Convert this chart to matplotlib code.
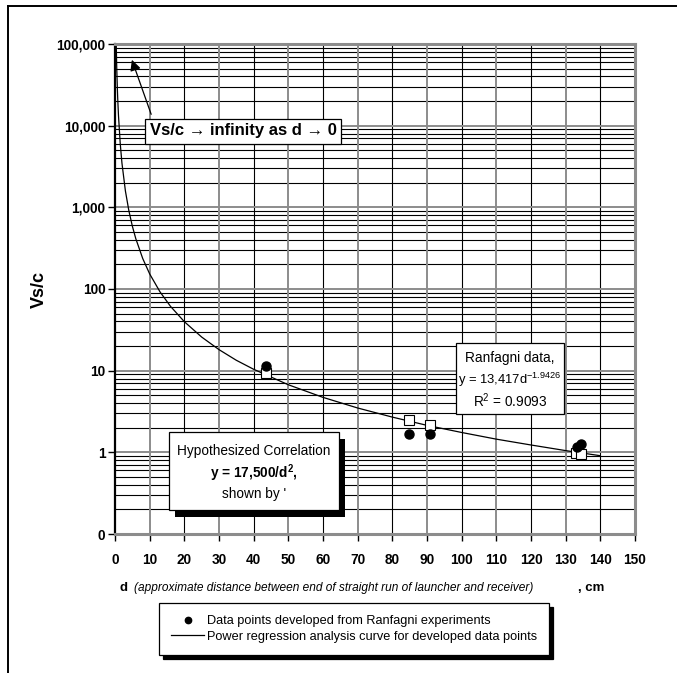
import matplotlib

matplotlib.use("Agg")
import matplotlib.pyplot as plt
from matplotlib.lines import Line2D
from matplotlib.patches import Rectangle

plt.rcParams["font.family"] = ["Liberation Sans", "DejaVu Sans"]
plt.rcParams["mathtext.fontset"] = "custom"
plt.rcParams["mathtext.rm"] = "Liberation Sans"
plt.rcParams["mathtext.it"] = "Liberation Sans:italic"
plt.rcParams["mathtext.bf"] = "Liberation Sans:bold"

# Ranfagni-derived data points (filled circles)
ranfagni_d = [43.5, 84.9, 91.0, 133.3, 134.4]
ranfagni_v = [11.3, 1.68, 1.68, 1.16, 1.25]

# hypothesized correlation points (open squares)
hypo_d = [43.5, 84.9, 91.0, 132.9, 134.5]
hypo_v = [9.4, 2.5, 2.15, 0.98, 0.96]

# power regression curve
curve_d = [0.36, 0.5, 0.7, 0.8, 1.0, 1.5, 2, 3, 4, 5, 6, 8, 10, 13, 16, 20,
           25, 30, 35, 40, 50, 60, 70, 80, 90, 100, 110, 120, 130, 140]
curve_v = [97600, 51580, 26830, 20697, 13417, 6104, 3490, 1588, 908, 589,
           413, 236, 153, 92.0, 61.4, 39.8, 25.8, 18.1, 13.4, 10.4, 6.72,
           4.71, 3.49, 2.70, 2.14, 1.75, 1.45, 1.23, 1.05, 0.909]

y_ticks = [0.1, 1, 10, 100, 1000, 10000, 100000]
y_labels = ["0", "1", "10", "100", "1,000", "10,000", "100,000"]
x_ticks = list(range(0, 151, 10))

W, H = 677, 673


def fx(px):
    return px / W


def fy(py):
    return 1 - py / H


fig = plt.figure(figsize=(6.77, 6.73), dpi=100)
ax = fig.add_axes([fx(115), fy(534), fx(635) - fx(115), fy(44) - fy(534)])
ax.set_yscale("log")
ax.set_xlim(0, 150)
ax.set_ylim(0.1, 100000)

# grid: log minor lines black, decades and every-other vertical in grey
for dec in [0.1, 1, 10, 100, 1000, 10000]:
    for m in range(2, 10):
        ax.axhline(dec * m, color="black", lw=0.8, zorder=0.5)
for v in y_ticks:
    ax.axhline(v, color="#8c8c8c", lw=1.4, zorder=0.6)
for x in x_ticks[1:-1]:
    if x % 20 == 0:
        ax.axvline(x, color="black", lw=0.8, zorder=0.5)
    else:
        ax.axvline(x, color="#8c8c8c", lw=1.4, zorder=0.5)

ax.plot(curve_d, curve_v, color="black", lw=0.9, zorder=2,
        label="Power regression analysis curve for developed data points")
ax.plot(hypo_d, hypo_v, ls="none", marker="s", ms=6.5, mfc="white",
        mec="black", mew=0.8, zorder=3)
ax.plot(ranfagni_d, ranfagni_v, ls="none", marker="o", ms=6.5,
        color="black", zorder=4,
        label="Data points developed from Ranfagni experiments")

ax.set_xticks(x_ticks)
ax.set_xticklabels([str(x) for x in x_ticks])
ax.set_yticks(y_ticks)
ax.set_yticklabels(y_labels)
ax.yaxis.set_minor_locator(matplotlib.ticker.NullLocator())
ax.tick_params(axis="both", direction="out", length=5, width=1.0,
               labelsize=9.8)
ax.tick_params(axis="x", pad=9)
ax.tick_params(axis="y", pad=2)
for lab in ax.get_xticklabels() + ax.get_yticklabels():
    lab.set_fontweight("bold")

for side in ["top", "right", "bottom"]:
    ax.spines[side].set_color("#8c8c8c")
    ax.spines[side].set_linewidth(2.2)
ax.spines["left"].set_color("black")
ax.spines["left"].set_linewidth(1.6)

ax.set_ylabel("Vs/c", fontsize=13, fontweight="bold", labelpad=6)

# x label in three parts
fig.text(fx(123), fy(588), "d", fontsize=9.5, fontweight="bold",
         ha="center", va="center")
fig.text(fx(134), fy(588),
         "(approximate distance between end of straight run of launcher and receiver)",
         fontsize=8.6, style="italic", ha="left", va="center")
fig.text(fx(578), fy(588), ", cm", fontsize=9.5, fontweight="bold",
         ha="left", va="center")

# arrow annotation
ax.annotate("", xy=(4.6, 69000), xytext=(10.7, 12800),
            arrowprops=dict(arrowstyle="-|>", color="black", lw=0.9,
                            mutation_scale=16), zorder=5)
fig.text(fx(243), fy(131), "Vs/c \u2192 infinity as d \u2192 0",
         fontsize=12, fontweight="bold", ha="center", va="center",
         bbox=dict(boxstyle="square,pad=0.3", fc="white", ec="black", lw=0.9),
         zorder=6)

# hypothesized correlation box with shadow
fig.add_artist(Rectangle((fx(175), fy(517)), fx(170), fy(432) - fy(510),
                         fc="black", ec="black", lw=0, zorder=4))
fig.add_artist(Rectangle((fx(169), fy(510)), fx(170), fy(432) - fy(510),
                         fc="white", ec="black", lw=0.9, zorder=5))
fig.text(fx(254), fy(451), "Hypothesized Correlation", fontsize=9.8,
         ha="center", va="center", zorder=6)
fig.text(fx(254), fy(473), r"y = 17,500/d$^{\mathbf{2}}$,", fontsize=9.8,
         fontweight="bold", ha="center", va="center", zorder=6)
fig.text(fx(254), fy(494), "shown by '", fontsize=9.8,
         ha="center", va="center", zorder=6)

# regression box
fig.add_artist(Rectangle((fx(456), fy(414)), fx(108), fy(343) - fy(414),
                         fc="white", ec="black", lw=0.9, zorder=5))
fig.text(fx(510), fy(358), "Ranfagni data,", fontsize=9.8,
         ha="center", va="center", zorder=6)
fig.text(fx(510), fy(380), r"y = 13,417d$^{-1.9426}$", fontsize=9.4,
         ha="center", va="center", zorder=6)
fig.text(fx(510), fy(401), r"R$^{2}$ = 0.9093", fontsize=9.8,
         ha="center", va="center", zorder=6)

# legend
handles, labels = ax.get_legend_handles_labels()
handles = handles[::-1]
labels = labels[::-1]
leg = fig.legend(handles, labels, loc="center",
                 bbox_to_anchor=(fx(354), fy(629)), fontsize=9.2,
                 frameon=True, fancybox=False, edgecolor="black",
                 framealpha=1, borderpad=0.95, handlelength=2.6,
                 handletextpad=0.2, labelspacing=0.3, markerscale=0.7,
                 borderaxespad=0,
                 shadow={"ox": 3, "oy": -3, "color": "black", "alpha": 1})
leg.get_frame().set_linewidth(0.9)

# outer chart border (left and top edges)
fig.add_artist(Line2D([fx(8), fx(8)], [fy(6), 0], color="black", lw=1.4))
fig.add_artist(Line2D([fx(8), 1], [fy(6), fy(6)], color="black", lw=1.4))

fig.savefig("out.png", dpi=100)
